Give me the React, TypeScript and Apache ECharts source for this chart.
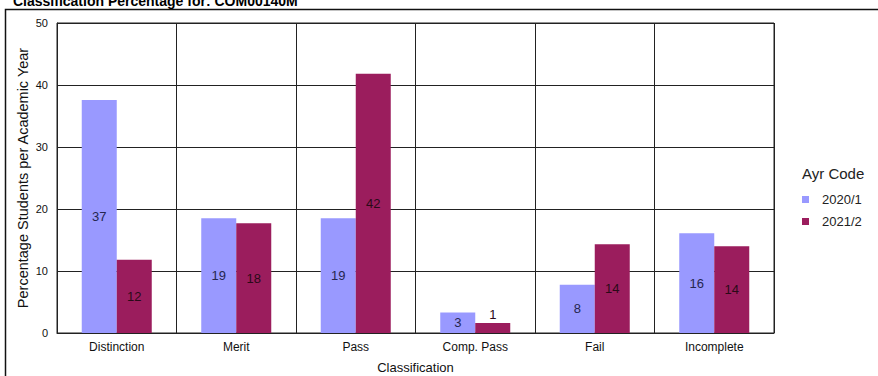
import React, { useEffect, useRef } from "react";
import * as echarts from "echarts";

const titleText = "Classification Percentage for: COM00140M";
const categories = ["Distinction", "Merit", "Pass", "Comp. Pass", "Fail", "Incomplete"];
const seriesNames = ["2020/1", "2021/2"];
const values2020 = [37.6, 18.5, 18.5, 3.3, 7.8, 16.1];
const values2021 = [11.8, 17.7, 41.8, 1.6, 14.3, 14.0];
const labels2020 = ["37", "19", "19", "3", "8", "16"];
const labels2021 = ["12", "18", "42", "1", "14", "14"];
const yTicks = [0, 10, 20, 30, 40, 50];

const FONT = "'Liberation Sans', Arial, sans-serif";

export default function App() {
  const ref = useRef<HTMLDivElement>(null);
  useEffect(() => {
    if (!ref.current) return;
    const chart = echarts.init(ref.current, null, { renderer: "svg" });
    const red = "#9b1d5d";
    const blue = "#9999ff";
    chart.setOption({
      animation: false,
      backgroundColor: "#ffffff",
      textStyle: { fontFamily: FONT },
      graphic: [
        {
          type: "rect",
          shape: { x: 5.5, y: 9.5, width: 900, height: 400 },
          style: { fill: "none", stroke: "#111", lineWidth: 1.5 },
          silent: true,
        },
        {
          type: "text",
          x: 13,
          y: -6,
          style: {
            text: titleText,
            font: `bold 14px ${FONT}`,
            fill: "#000",
            textVerticalAlign: "top",
          },
        },
        {
          type: "text",
          x: 802,
          y: 173,
          style: {
            text: "Ayr Code",
            font: `15px ${FONT}`,
            fill: "#222",
            textVerticalAlign: "middle",
          },
        },
      ],
      legend: {
        orient: "vertical",
        left: 797,
        top: 188,
        icon: "rect",
        itemWidth: 7,
        itemHeight: 7,
        itemGap: 9,
        data: seriesNames,
        textStyle: { fontSize: 13, color: "#222", fontFamily: FONT, padding: [0, 0, 0, 8] },
      },
      grid: {
        left: 57,
        top: 23,
        width: 717,
        height: 310,
        outerBoundsMode: "none",
        containLabel: false,
        show: true,
        borderColor: "#222",
        borderWidth: 1,
        backgroundColor: "transparent",
      },
      xAxis: {
        type: "category",
        data: categories,
        name: "Classification",
        nameLocation: "middle",
        nameGap: 28,
        nameMoveOverlap: false,
        nameTextStyle: { fontSize: 13, color: "#111", fontFamily: FONT },
        axisLine: { show: true, lineStyle: { color: "#222", width: 1 } },
        axisTick: { show: false },
        axisLabel: { fontSize: 12, color: "#111", margin: 8, fontFamily: FONT, interval: 0 },
        splitLine: { show: true, interval: 0, lineStyle: { color: "#222", width: 1 } },
      },
      yAxis: {
        type: "value",
        min: yTicks[0],
        max: yTicks[yTicks.length - 1],
        interval: 10,
        name: "Percentage Students per Academic Year",
        nameLocation: "middle",
        nameGap: 27,
        nameMoveOverlap: false,
        nameTextStyle: { fontSize: 14.5, color: "#111", fontFamily: FONT },
        axisLine: { show: true, lineStyle: { color: "#222", width: 1 } },
        axisTick: { show: false },
        axisLabel: { fontSize: 11, color: "#111", margin: 9, fontFamily: FONT },
        splitLine: { show: true, lineStyle: { color: "#222", width: 1 } },
      },
      series: [
        {
          name: seriesNames[0],
          type: "bar",
          barWidth: 35,
          barGap: "0%",
          itemStyle: { color: blue },
          data: values2020.map((v) => ({ value: v })),
          label: {
            show: true,
            position: "inside",
            fontSize: 13,
            color: "#26264f",
            fontFamily: FONT,
            formatter: (p: any) => labels2020[p.dataIndex],
          },
        },
        {
          name: seriesNames[1],
          type: "bar",
          barWidth: 35,
          barGap: "0%",
          itemStyle: { color: red },
          data: values2021.map((v, i) =>
            i === 3 ? { value: v, label: { position: "top", distance: 2 } } : { value: v }
          ),
          label: {
            show: true,
            position: "inside",
            fontSize: 13,
            color: "#2a0a18",
            fontFamily: FONT,
            formatter: (p: any) => labels2021[p.dataIndex],
          },
        },
      ],
    });
    return () => chart.dispose();
  }, []);
  return (
    <div
      ref={ref}
      style={{ position: "absolute", left: 0, top: 0, width: 878, height: 376 }}
    />
  );
}
